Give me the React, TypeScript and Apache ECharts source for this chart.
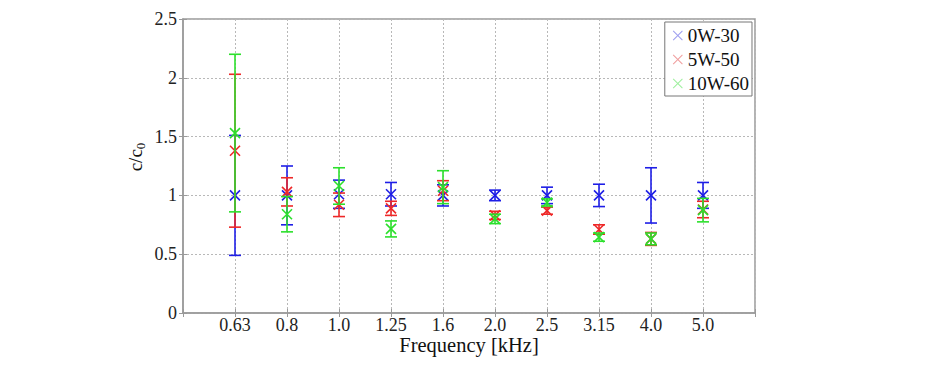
import React, { useEffect, useRef } from "react";
import * as echarts from "echarts";

const categories = ["0.63", "0.8", "1.0", "1.25", "1.6", "2.0", "2.5", "3.15", "4.0", "5.0"];
const seriesNames = ["0W-30", "5W-50", "10W-60"];
const mean0W = [1.0, 1.0, 1.01, 1.01, 1.0, 1.0, 1.0, 1.0, 1.0, 1.0];
const err0W = [0.51, 0.25, 0.12, 0.1, 0.09, 0.045, 0.07, 0.095, 0.235, 0.11];
const mean5W = [1.38, 1.03, 0.92, 0.89, 1.04, 0.83, 0.87, 0.71, 0.63, 0.88];
const err5W = [0.65, 0.12, 0.1, 0.06, 0.085, 0.035, 0.03, 0.04, 0.055, 0.07];
const mean10W = [1.53, 0.84, 1.08, 0.715, 1.07, 0.8, 0.94, 0.645, 0.63, 0.875];
const err10W = [0.67, 0.15, 0.155, 0.068, 0.14, 0.04, 0.03, 0.035, 0.05, 0.1];
const yTicks = [0, 0.5, 1, 1.5, 2, 2.5];

const colors = ["#1e1ee6", "#ee2828", "#2ce02c"];
const paleColors = ["#a0a0f0", "#f0a0a0", "#a0f0a0"];
const FONT = "Liberation Serif";

const X_ICON =
  "path://M0,1.5L1.5,0L10,8.5L18.5,0L20,1.5L11.5,10L20,18.5L18.5,20L10,11.5L1.5,20L0,18.5L8.5,10Z";

function makeSeries(name: string, means: number[], errs: number[], color: string) {
  return {
    type: "custom",
    name,
    xAxisIndex: 0,
    yAxisIndex: 0,
    itemStyle: { color },
    encode: { x: 0, y: 1 },
    data: means.map((m, i) => [i + 1, m, errs[i]]),
    renderItem: (params: any, api: any) => {
      const x = api.value(0);
      const m = api.value(1);
      const e = api.value(2);
      const top = api.coord([x, m + e]);
      const bot = api.coord([x, m - e]);
      const c = api.coord([x, m]);
      const style = { stroke: color, lineWidth: 1.6 };
      const cap = 6;
      const mk = 5;
      return {
        type: "group",
        children: [
          { type: "line", shape: { x1: top[0], y1: top[1], x2: bot[0], y2: bot[1] }, style },
          { type: "line", shape: { x1: top[0] - cap, y1: top[1], x2: top[0] + cap, y2: top[1] }, style },
          { type: "line", shape: { x1: bot[0] - cap, y1: bot[1], x2: bot[0] + cap, y2: bot[1] }, style },
          { type: "line", shape: { x1: c[0] - mk, y1: c[1] - mk, x2: c[0] + mk, y2: c[1] + mk }, style },
          { type: "line", shape: { x1: c[0] - mk, y1: c[1] + mk, x2: c[0] + mk, y2: c[1] - mk }, style },
        ],
      };
    },
  };
}

export default function App() {
  const ref = useRef<HTMLDivElement>(null);
  useEffect(() => {
    if (!ref.current) return;
    const chart = echarts.init(ref.current, null, { renderer: "svg" });
    const axisLineColor = "#9a9a9a";
    const gridLine = { show: true, lineStyle: { color: "#b8b8b8", type: [2, 2], width: 1 } };
    chart.setOption({
      animation: false,
      backgroundColor: "#ffffff",
      grid: {
        left: 183,
        right: 172,
        top: 19,
        bottom: 56,
        show: true,
        borderColor: axisLineColor,
        borderWidth: 1.5,
        backgroundColor: "transparent",
      },
      legend: {
        orient: "vertical",
        right: 175,
        top: 22,
        itemWidth: 10,
        itemHeight: 10,
        itemGap: 5,
        padding: [4, 3, 3, 8],
        backgroundColor: "#ffffff",
        borderColor: "#777777",
        borderWidth: 1,
        textStyle: { fontFamily: FONT, fontSize: 19, color: "#111", lineHeight: 18 },
        data: seriesNames.map((n, i) => ({ name: n, icon: X_ICON, itemStyle: { color: paleColors[i] } })),
      },
      xAxis: [
        {
          type: "value",
          min: 0,
          max: categories.length + 1,
          interval: 1,
          name: "Frequency [kHz]",
          nameLocation: "middle",
          nameGap: 23,
          nameMoveOverlap: false,
          nameTextStyle: { fontFamily: FONT, fontSize: 20.5, color: "#111", lineHeight: 18 },
          axisLine: { show: true, lineStyle: { color: axisLineColor, width: 1.5 } },
          axisTick: { show: true, inside: true, length: 4, lineStyle: { color: axisLineColor } },
          axisLabel: {
            fontFamily: FONT,
            fontSize: 18,
            color: "#222",
            margin: 3,
            lineHeight: 18,
            formatter: (v: number) => (v >= 1 && v <= categories.length ? categories[v - 1] : ""),
          },
          splitLine: gridLine,
        },
        {
          type: "value",
          position: "top",
          min: 0,
          max: categories.length + 1,
          interval: 1,
          axisLine: { show: false },
          axisTick: { show: true, inside: true, length: 4, lineStyle: { color: axisLineColor } },
          axisLabel: { show: false },
          splitLine: { show: false },
        },
      ],
      yAxis: [
        {
          type: "value",
          min: yTicks[0],
          max: yTicks[yTicks.length - 1],
          interval: 0.5,
          name: "{a|c/c}{b|0}",
          nameLocation: "middle",
          nameRotate: 90,
          nameGap: 36,
          nameMoveOverlap: false,
          nameTextStyle: {
            fontFamily: FONT,
            color: "#111",
            padding: [0, 0, 0, 18],
            rich: {
              a: { fontFamily: FONT, fontSize: 19, color: "#111", lineHeight: 24, verticalAlign: "middle" },
              b: { fontFamily: FONT, fontSize: 13, color: "#111", lineHeight: 12, verticalAlign: "bottom" },
            },
          },
          axisLine: { show: true, lineStyle: { color: axisLineColor, width: 1.5 } },
          axisTick: { show: true, inside: true, length: 4, lineStyle: { color: axisLineColor } },
          axisLabel: { fontFamily: FONT, fontSize: 18, color: "#222", margin: 6 },
          splitLine: gridLine,
        },
        {
          type: "value",
          position: "right",
          min: yTicks[0],
          max: yTicks[yTicks.length - 1],
          interval: 0.5,
          axisLine: { show: false },
          axisTick: { show: true, inside: true, length: 4, lineStyle: { color: axisLineColor } },
          axisLabel: { show: false },
          splitLine: { show: false },
        },
      ],
      series: [
        makeSeries(seriesNames[0], mean0W, err0W, colors[0]),
        makeSeries(seriesNames[1], mean5W, err5W, colors[1]),
        makeSeries(seriesNames[2], mean10W, err10W, colors[2]),
      ],
    });
    return () => chart.dispose();
  }, []);
  return (
    <div
      ref={ref}
      style={{ position: "fixed", left: 0, top: 0, width: 927, height: 369, background: "#fff" }}
    />
  );
}
